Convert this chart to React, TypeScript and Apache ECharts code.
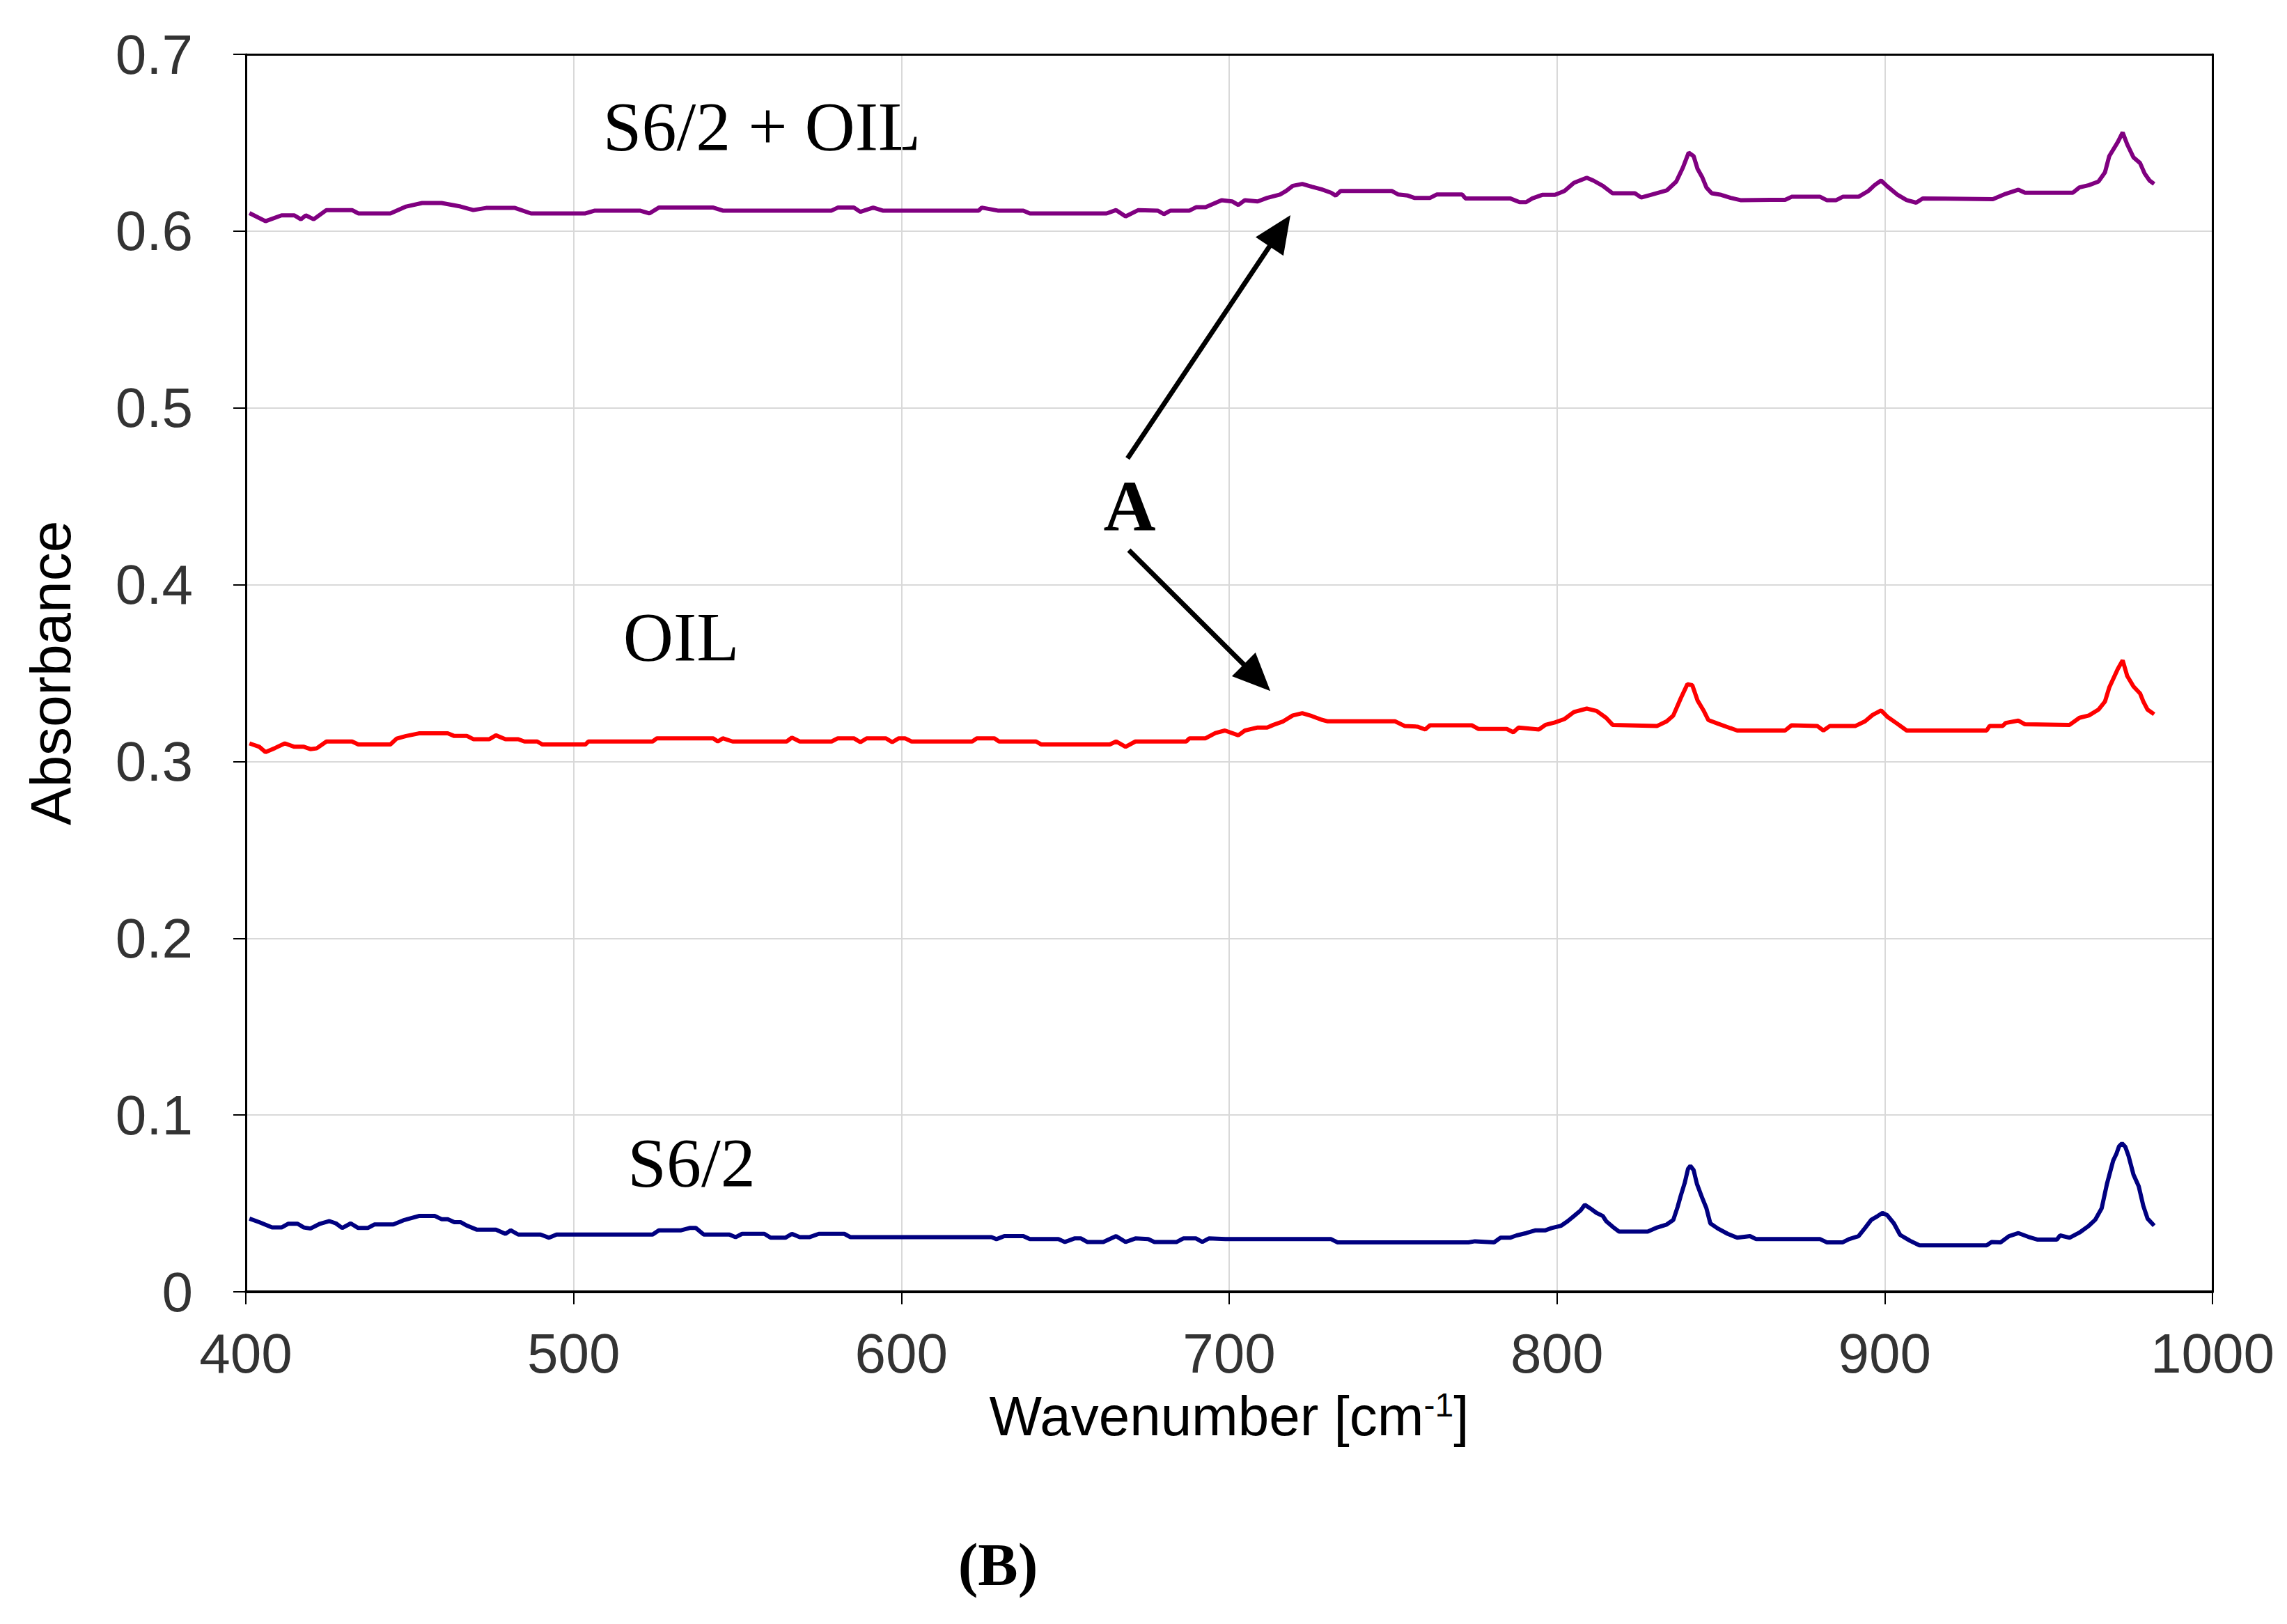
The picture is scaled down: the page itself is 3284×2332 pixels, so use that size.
import { useEffect, useRef } from "react";
import * as echarts from "echarts";

// wavenumber [cm-1], absorbance
const s62OilData: [number, number][] = [
  [401.1, 0.6102], [406.0, 0.6056], [410.9, 0.6089], [414.8, 0.6089], [416.8, 0.6067],
  [418.3, 0.6089], [420.7, 0.6067], [424.6, 0.6119], [432.4, 0.6119], [434.3, 0.61],
  [444.1, 0.61], [448.9, 0.6139], [453.8, 0.6159], [459.7, 0.6159], [465.5, 0.6139],
  [469.4, 0.6119], [473.3, 0.6131], [482.1, 0.6131], [487.0, 0.61], [503.6, 0.61],
  [506.5, 0.6116], [520.2, 0.6116], [523.1, 0.61], [526.0, 0.6133], [542.6, 0.6133],
  [545.5, 0.6116], [578.7, 0.6116], [580.6, 0.6133], [585.5, 0.6133], [587.5, 0.6109],
  [591.4, 0.6133], [594.3, 0.6116], [623.6, 0.6116], [624.5, 0.6133], [629.4, 0.6116],
  [637.2, 0.6116], [639.2, 0.61], [662.6, 0.61], [665.5, 0.6119], [668.4, 0.6083],
  [672.3, 0.6119], [678.2, 0.6116], [680.1, 0.6096], [682.1, 0.6116], [687.9, 0.6116],
  [689.9, 0.6135], [692.8, 0.6135], [697.7, 0.6175], [700.9, 0.6168], [702.8, 0.6148],
  [704.8, 0.6175], [708.7, 0.6168], [711.6, 0.6188], [715.5, 0.6207], [717.4, 0.6227],
  [719.4, 0.6256], [722.3, 0.6267], [725.2, 0.6251], [728.2, 0.6236], [731.1, 0.6217],
  [732.5, 0.6201], [734.0, 0.6227], [749.6, 0.6227], [751.6, 0.6207], [754.5, 0.6201],
  [756.5, 0.6188], [761.3, 0.6188], [763.3, 0.6207], [771.1, 0.6207], [772.1, 0.6185],
  [785.7, 0.6185], [788.6, 0.6164], [790.6, 0.6164], [792.5, 0.6185], [795.5, 0.6205],
  [799.4, 0.6205], [802.3, 0.6227], [805.2, 0.6273], [809.1, 0.6302], [811.1, 0.6286],
  [814.0, 0.6256], [817.0, 0.6214], [823.8, 0.6214], [825.7, 0.619], [828.6, 0.6205],
  [833.5, 0.623], [836.4, 0.628], [838.4, 0.6358], [840.2, 0.6444], [841.7, 0.6424],
  [842.9, 0.6352], [844.3, 0.6306], [845.6, 0.6247], [847.2, 0.6214], [850.1, 0.6205],
  [853.0, 0.6188], [856.0, 0.6175], [869.6, 0.6177], [871.6, 0.6194], [880.3, 0.6194],
  [882.3, 0.6175], [885.2, 0.6175], [887.2, 0.6194], [892.0, 0.6194], [895.0, 0.6227],
  [896.9, 0.626], [898.9, 0.6286], [900.8, 0.6253], [903.8, 0.6207], [906.7, 0.6175],
  [909.6, 0.6161], [911.6, 0.6185], [933.0, 0.6181], [936.9, 0.6211], [940.8, 0.6234],
  [942.8, 0.6217], [957.4, 0.6217], [959.4, 0.6247], [962.3, 0.626], [965.2, 0.628],
  [967.2, 0.6332], [968.5, 0.6424], [971.1, 0.6503], [972.6, 0.6558], [974.0, 0.649],
  [975.9, 0.6417], [977.9, 0.6385], [979.3, 0.6326], [980.8, 0.6286], [982.2, 0.6267],
];

const oilData: [number, number][] = [
  [401.1, 0.3102], [404.1, 0.3083], [406.0, 0.3053], [408.9, 0.3076], [411.9, 0.3102],
  [414.8, 0.3083], [417.7, 0.3083], [419.7, 0.307], [421.6, 0.3074], [424.6, 0.3113],
  [432.4, 0.3113], [434.3, 0.3096], [444.1, 0.3096], [446.0, 0.3129], [448.9, 0.3144],
  [452.8, 0.3159], [461.6, 0.3159], [463.6, 0.3144], [467.5, 0.3144], [469.4, 0.3126],
  [474.3, 0.3126], [476.3, 0.3148], [479.2, 0.3126], [483.1, 0.3126], [485.0, 0.3113],
  [488.9, 0.3113], [490.5, 0.3096], [503.6, 0.3096], [504.5, 0.3113], [524.1, 0.3113],
  [525.4, 0.3131], [542.6, 0.3131], [544.0, 0.3113], [545.5, 0.3131], [548.5, 0.3113],
  [565.0, 0.3113], [566.6, 0.3135], [569.0, 0.3113], [578.7, 0.3113], [580.6, 0.3131],
  [585.5, 0.3131], [587.5, 0.3109], [589.4, 0.3131], [595.3, 0.3131], [597.2, 0.3109],
  [599.2, 0.3131], [601.1, 0.3131], [603.1, 0.3113], [621.6, 0.3113], [623.0, 0.3131],
  [628.4, 0.3131], [629.8, 0.3113], [641.1, 0.3113], [642.7, 0.3096], [663.6, 0.3096],
  [665.5, 0.3113], [668.4, 0.3083], [671.4, 0.3113], [686.9, 0.3113], [687.9, 0.3131],
  [692.8, 0.3131], [695.8, 0.3161], [698.7, 0.3175], [702.8, 0.3148], [704.8, 0.3175],
  [708.7, 0.3192], [711.6, 0.3192], [713.5, 0.3207], [716.5, 0.3227], [719.4, 0.326],
  [722.3, 0.3273], [725.2, 0.3257], [728.2, 0.3236], [730.1, 0.3227], [750.6, 0.3227],
  [753.5, 0.3201], [757.4, 0.3197], [759.8, 0.3181], [761.3, 0.3205], [774.0, 0.3205],
  [776.0, 0.3184], [784.7, 0.3184], [786.7, 0.3165], [788.3, 0.3192], [794.5, 0.3181],
  [796.5, 0.3207], [799.4, 0.3221], [802.3, 0.324], [805.2, 0.328], [809.1, 0.3299],
  [812.1, 0.3286], [815.0, 0.3247], [817.0, 0.3207], [830.6, 0.3201], [833.5, 0.3227],
  [835.5, 0.326], [837.8, 0.3358], [839.8, 0.3437], [841.3, 0.3431], [842.9, 0.3345],
  [844.8, 0.3286], [846.2, 0.3234], [849.1, 0.3214], [853.0, 0.3188], [855.0, 0.3175],
  [869.6, 0.3175], [871.6, 0.3205], [879.4, 0.3201], [881.3, 0.3175], [883.3, 0.3201],
  [891.1, 0.3201], [894.0, 0.3227], [896.3, 0.3263], [898.9, 0.3289], [900.8, 0.3253],
  [903.8, 0.3214], [906.7, 0.3175], [931.1, 0.3175], [932.0, 0.3201], [936.0, 0.3201],
  [936.9, 0.3218], [940.8, 0.3231], [942.8, 0.321], [956.4, 0.3207], [959.4, 0.3247],
  [962.3, 0.326], [965.2, 0.3293], [967.2, 0.3339], [968.5, 0.3418], [971.1, 0.3523],
  [972.6, 0.3572], [974.0, 0.3483], [975.9, 0.3424], [977.9, 0.3385], [978.9, 0.3339],
  [980.2, 0.3293], [982.2, 0.3267],
];

const s62Data: [number, number][] = [
  [401.1, 0.0414], [404.1, 0.0394], [408.0, 0.0364], [410.9, 0.0364], [412.9, 0.0385],
  [415.8, 0.0385], [417.7, 0.0364], [419.7, 0.0358], [422.6, 0.0385], [425.5, 0.04],
  [427.5, 0.0387], [429.4, 0.0361], [432.0, 0.0387], [434.3, 0.0361], [437.2, 0.0361],
  [439.2, 0.0381], [445.0, 0.0381], [448.0, 0.0404], [449.9, 0.0414], [452.8, 0.0429],
  [457.7, 0.0429], [459.7, 0.0411], [461.6, 0.0411], [463.6, 0.0394], [465.5, 0.0394],
  [467.5, 0.0374], [470.4, 0.0352], [476.3, 0.0352], [479.2, 0.0328], [480.8, 0.0348],
  [483.1, 0.0324], [489.9, 0.0324], [492.5, 0.0306], [494.8, 0.0324], [524.1, 0.0324],
  [526.0, 0.0348], [532.8, 0.0348], [535.4, 0.0361], [537.3, 0.0361], [539.7, 0.0324],
  [547.5, 0.0324], [549.4, 0.0309], [551.4, 0.0328], [558.2, 0.0328], [560.1, 0.0306],
  [564.6, 0.0306], [566.6, 0.0328], [569.0, 0.0309], [571.9, 0.0309], [574.8, 0.0328],
  [582.6, 0.0328], [584.5, 0.0309], [627.5, 0.0309], [629.0, 0.0298], [631.4, 0.0315],
  [637.2, 0.0315], [639.2, 0.0298], [647.9, 0.0298], [649.9, 0.0282], [652.8, 0.0302],
  [654.8, 0.0302], [656.7, 0.0282], [661.6, 0.0282], [665.5, 0.0315], [668.4, 0.0282],
  [671.4, 0.0302], [675.3, 0.0298], [677.2, 0.0282], [684.0, 0.0282], [686.0, 0.0302],
  [689.9, 0.0302], [691.8, 0.0282], [693.8, 0.0302], [698.9, 0.0298], [731.1, 0.0298],
  [733.0, 0.028], [773.0, 0.028], [775.0, 0.0286], [780.8, 0.028], [782.8, 0.0306],
  [785.7, 0.0306], [787.7, 0.0319], [790.6, 0.0332], [793.5, 0.0348], [796.5, 0.0348],
  [798.4, 0.0361], [801.3, 0.0374], [803.3, 0.04], [805.2, 0.0429], [807.2, 0.046],
  [808.5, 0.0492], [810.1, 0.0473], [812.1, 0.0446], [814.0, 0.0429], [815.0, 0.04],
  [817.0, 0.0368], [818.9, 0.0341], [827.7, 0.0341], [830.6, 0.0364], [833.5, 0.0381],
  [835.5, 0.0407], [836.8, 0.0479], [837.8, 0.0545], [839.0, 0.0617], [840.0, 0.0696],
  [840.7, 0.0712], [841.7, 0.0689], [842.7, 0.0611], [844.3, 0.0532], [845.6, 0.0473],
  [846.8, 0.0387], [849.1, 0.0358], [852.1, 0.0328], [855.0, 0.0306], [858.9, 0.0315],
  [860.8, 0.0298], [880.3, 0.0298], [882.3, 0.028], [887.2, 0.028], [889.1, 0.0298],
  [892.0, 0.0315], [894.0, 0.0361], [895.9, 0.0407], [897.9, 0.0429], [899.3, 0.0446],
  [900.8, 0.0433], [902.8, 0.0387], [904.7, 0.0322], [907.7, 0.0289], [910.6, 0.0263],
  [931.1, 0.0263], [932.6, 0.0282], [935.4, 0.028], [937.9, 0.0315], [940.8, 0.0332],
  [943.8, 0.0311], [946.7, 0.0295], [952.5, 0.0295], [953.5, 0.0319], [956.4, 0.0306],
  [959.4, 0.0335], [962.3, 0.0374], [964.2, 0.0407], [966.2, 0.0473], [967.8, 0.061],
  [969.7, 0.0742], [970.7, 0.0781], [971.5, 0.0823], [972.4, 0.084], [973.4, 0.082],
  [974.4, 0.0768], [975.9, 0.0663], [977.5, 0.0597], [978.9, 0.0486], [980.2, 0.0414],
  [982.2, 0.0374],
];

// "A" arrows: [start, end] in data coordinates
const arrowA: [number, number][][] = [
  [[669.0, 0.4714], [715.5, 0.6002]],
  [[669.4, 0.4195], [708.5, 0.3474]],
];

const sans = "'Liberation Sans', Arial, sans-serif";
const serif = "'Liberation Serif', 'Times New Roman', serif";

const App = () => {
  const chartRef = useRef<HTMLDivElement>(null);

  useEffect(() => {
    document.body.style.margin = "0";
    if (!chartRef.current) return;
    const chart = echarts.init(chartRef.current, undefined, { renderer: "svg" });

    const lineStyle = (color: string) => ({ color, width: 6 });
    const frameAxis = {
      show: true,
      axisLine: { show: true, onZero: false, lineStyle: { color: "#000", width: 3 } },
      axisTick: { show: false },
      axisLabel: { show: false },
      splitLine: { show: false },
    };

    const option: echarts.EChartsOption = {
      animation: false,
      backgroundColor: "#fff",
      grid: {
        left: 353,
        right: 107,
        top: 78,
        bottom: 477,
      },
      xAxis: [
        {
          type: "value",
          min: 400,
          max: 1000,
          interval: 100,
          name: "{t|Wavenumber [cm}{s|-1}{t|]}",
          nameLocation: "middle",
          nameGap: 138,
          nameTextStyle: {
            rich: {
              t: { fontSize: 80, fontFamily: sans, color: "#000" },
              s: { fontSize: 48, fontFamily: sans, color: "#000", verticalAlign: "top" },
            },
          },
          axisLine: { show: true, onZero: false, lineStyle: { color: "#000", width: 4 } },
          axisTick: { show: true, length: 18, lineStyle: { color: "#000", width: 2 } },
          axisLabel: {
            fontSize: 80,
            fontFamily: sans,
            color: "#333",
            margin: 48,
            formatter: (v: number) => String(v),
          },
          splitLine: { show: true, lineStyle: { color: "#d9d9d9", width: 2 } },
        },
        { type: "value", position: "top", min: 400, max: 1000, ...frameAxis } as any,
      ],
      yAxis: [
        {
          type: "value",
          min: 0,
          max: 0.7,
          interval: 0.1,
          name: "Absorbance",
          nameLocation: "middle",
          nameGap: 240,
          nameTextStyle: { fontSize: 82, fontFamily: sans, color: "#000" },
          axisLine: { show: true, lineStyle: { color: "#000", width: 3 } },
          axisTick: { show: true, length: 18, lineStyle: { color: "#000", width: 2 } },
          axisLabel: {
            fontSize: 80,
            fontFamily: sans,
            color: "#333",
            margin: 76,
            padding: [16, 0, 0, 0],
            formatter: (v: number) => (v === 0 ? "0" : v.toFixed(1)),
          },
          splitLine: { show: true, lineStyle: { color: "#d9d9d9", width: 2 } },
        },
        { type: "value", position: "right", min: 0, max: 0.7, ...frameAxis } as any,
      ],
      series: [
        {
          name: "S6/2 + OIL",
          type: "line",
          data: s62OilData,
          showSymbol: false,
          lineStyle: lineStyle("#800080"),
          itemStyle: { color: "#800080" },
        },
        {
          name: "OIL",
          type: "line",
          data: oilData,
          showSymbol: false,
          lineStyle: lineStyle("#ff0000"),
          itemStyle: { color: "#ff0000" },
          markLine: {
            silent: true,
            symbol: ["none", "triangle"],
            symbolSize: [48, 54],
            label: { show: false },
            lineStyle: { color: "#000", width: 7, type: "solid" },
            itemStyle: { color: "#000" },
            data: arrowA.map(([a, b]) => [
              { coord: a, lineStyle: { color: "#000", width: 7, type: "solid" } },
              { coord: b },
            ]) as any,
          },
        },
        {
          name: "S6/2",
          type: "line",
          data: s62Data,
          showSymbol: false,
          lineStyle: lineStyle("#000080"),
          itemStyle: { color: "#000080" },
        },
      ],
      graphic: [
        {
          type: "text",
          x: 1094,
          y: 181,
          style: { text: "S6/2 + OIL", fontSize: 100, fontFamily: serif, fill: "#000", align: "center", verticalAlign: "middle" },
        },
        {
          type: "text",
          x: 978,
          y: 914,
          style: { text: "OIL", fontSize: 100, fontFamily: serif, fill: "#000", align: "center", verticalAlign: "middle" },
        },
        {
          type: "text",
          x: 993,
          y: 1669,
          style: { text: "S6/2", fontSize: 100, fontFamily: serif, fill: "#000", align: "center", verticalAlign: "middle" },
        },
        {
          type: "text",
          x: 1622,
          y: 726,
          style: { text: "A", fontSize: 104, fontWeight: "bold", fontFamily: serif, fill: "#000", align: "center", verticalAlign: "middle" },
        },
        {
          type: "text",
          x: 1433,
          y: 2247,
          style: { text: "(B)", fontSize: 86, fontWeight: "bold", fontFamily: serif, fill: "#000", align: "center", verticalAlign: "middle" },
        },
      ],
    };

    chart.setOption(option);

    return () => {
      chart.dispose();
    };
  }, []);

  return <div ref={chartRef} style={{ width: 3284, height: 2332 }} />;
};

export default App;
